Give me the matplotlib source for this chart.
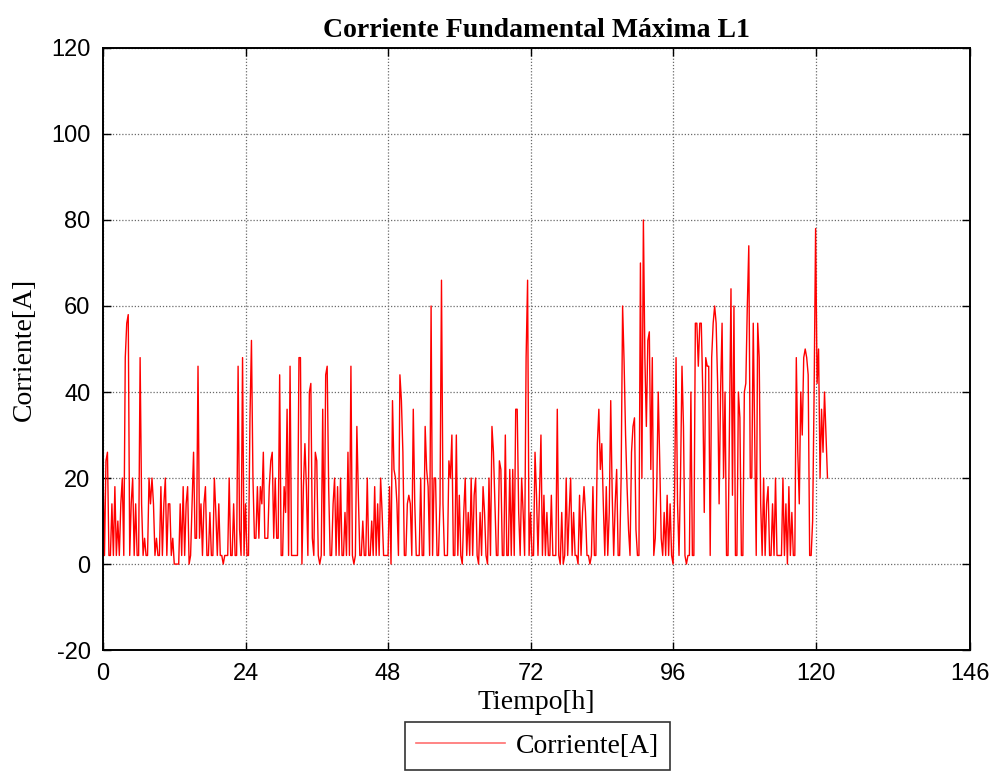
import numpy as np
import matplotlib
matplotlib.use("Agg")
import matplotlib.pyplot as plt
from matplotlib.lines import Line2D

# corriente máxima L1, una muestra cada 15 min (0 .. 122 h)
corriente = [
    22, 2, 24, 26, 2, 2, 14, 2, 18, 2, 10, 2, 14, 20, 2, 48, 56, 58, 2, 14, 20, 2, 14, 2,
    2, 48, 14, 2, 6, 2, 2, 20, 14, 20, 14, 2, 6, 2, 2, 18, 2, 14, 20, 2, 14, 14, 2, 6,
    0, 0, 0, 0, 14, 2, 18, 2, 14, 18, 0, 2, 14, 26, 6, 6, 46, 6, 14, 2, 14, 18, 2, 2,
    12, 2, 2, 20, 12, 2, 14, 2, 2, 0, 2, 2, 2, 20, 2, 2, 14, 2, 2, 46, 8, 2, 48, 2,
    14, 2, 2, 34, 52, 20, 6, 6, 18, 6, 18, 14, 26, 6, 6, 6, 18, 24, 26, 6, 20, 6, 6, 44,
    2, 2, 18, 12, 36, 2, 46, 2, 2, 2, 2, 2, 48, 48, 0, 18, 28, 18, 2, 40, 42, 6, 2, 26,
    24, 2, 0, 2, 36, 2, 44, 46, 18, 2, 2, 14, 20, 2, 18, 2, 20, 2, 2, 12, 2, 26, 2, 46,
    2, 0, 2, 32, 16, 2, 2, 10, 2, 2, 20, 2, 2, 10, 2, 18, 2, 14, 2, 20, 12, 2, 2, 2,
    2, 18, 0, 38, 22, 20, 14, 2, 44, 38, 26, 2, 2, 14, 16, 14, 2, 36, 14, 2, 2, 2, 20, 2,
    2, 32, 22, 18, 2, 60, 2, 20, 20, 2, 2, 14, 66, 14, 2, 2, 2, 24, 20, 30, 2, 2, 30, 2,
    16, 2, 0, 12, 20, 2, 12, 2, 20, 2, 16, 20, 2, 0, 12, 2, 18, 12, 2, 0, 20, 2, 32, 26,
    14, 2, 2, 24, 22, 2, 2, 30, 2, 2, 22, 2, 22, 2, 36, 36, 12, 2, 20, 12, 2, 48, 66, 2,
    12, 2, 2, 26, 16, 2, 16, 30, 2, 16, 2, 12, 2, 2, 16, 2, 2, 2, 36, 2, 0, 12, 0, 2,
    20, 2, 12, 20, 2, 12, 2, 2, 0, 16, 2, 12, 18, 12, 2, 2, 0, 2, 18, 2, 2, 28, 36, 22,
    28, 14, 2, 18, 2, 12, 38, 16, 2, 14, 22, 2, 2, 20, 60, 47, 30, 18, 8, 2, 26, 32, 34, 8,
    2, 2, 70, 20, 80, 48, 32, 52, 54, 22, 48, 2, 6, 18, 40, 24, 6, 2, 12, 2, 16, 2, 14, 2,
    0, 16, 48, 14, 2, 20, 46, 32, 2, 0, 2, 2, 40, 2, 2, 56, 56, 46, 56, 56, 40, 12, 48, 46,
    46, 2, 48, 56, 60, 56, 42, 14, 40, 56, 20, 40, 2, 2, 32, 64, 16, 60, 2, 2, 40, 34, 2, 2,
    40, 42, 60, 74, 20, 20, 56, 28, 2, 56, 48, 14, 2, 20, 2, 14, 18, 2, 2, 14, 2, 20, 2, 2,
    2, 2, 20, 2, 14, 0, 18, 2, 12, 2, 2, 48, 26, 14, 40, 30, 48, 50, 48, 44, 2, 2, 10, 40,
    78, 42, 50, 20, 36, 26, 40, 30, 20,
]
tiempo = np.arange(len(corriente)) * 0.25

xticks = [0, 24, 48, 72, 96, 120, 146]
yticks = [-20, 0, 20, 40, 60, 80, 100, 120]

serif = ['Liberation Serif', 'DejaVu Serif']
sans = ['Liberation Sans', 'DejaVu Sans']
plt.rcParams['axes.unicode_minus'] = False

fig = plt.figure(figsize=(10, 7.73), dpi=100)
ax = fig.add_axes([0.103, 0.159, 0.867, 0.779])

ax.plot(tiempo, corriente, color='red', lw=1.0)

ax.set_xlim(0, 146)
ax.set_ylim(-20, 120)
ax.set_xticks(xticks)
ax.set_yticks(yticks)
ax.grid(True, color='#6a6a6a', linestyle=(0, (1, 1.5)), lw=0.9)
ax.tick_params(direction='in', length=6, width=1, top=True, right=True,
               labelsize=17, pad=9)
for lab in ax.get_xticklabels() + ax.get_yticklabels():
    lab.set_family(sans)
for s in ax.spines.values():
    s.set_linewidth(1.4)

ax.set_title('Corriente Fundamental Máxima L1', family=serif, fontsize=20,
             fontweight='bold', pad=8)
ax.set_xlabel('Tiempo[h]', family=serif, fontsize=20)
ax.set_ylabel('Corriente[A]', family=serif, fontsize=20)
ax.xaxis.set_label_coords(0.5, -0.067)
ax.yaxis.set_label_coords(-0.076, 0.5)

muestra = Line2D([], [], color='#ff7070', lw=1.2, label='Corriente[A]')
leg = fig.legend(handles=[muestra], loc='center', bbox_to_anchor=(0.5375, 0.035),
                 prop={'family': serif, 'size': 20}, frameon=True, fancybox=False,
                 edgecolor='black', borderpad=0.4, handlelength=3.2,
                 handletextpad=0.4, borderaxespad=0)
leg.get_frame().set_linewidth(1.2)

fig.savefig('out.png', dpi=100)
